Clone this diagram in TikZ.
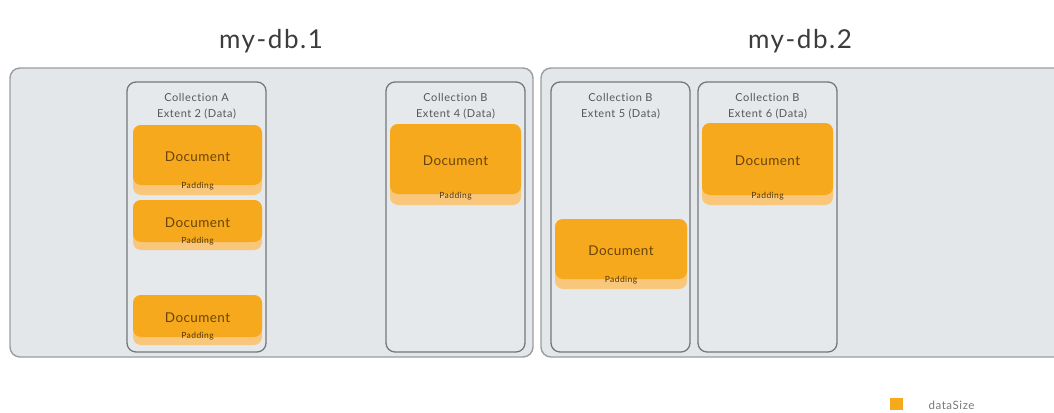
\documentclass[tikz,border=0pt]{standalone}
\usepackage{fontspec}
\setmainfont{Lato}[Ligatures={NoCommon,NoRare}]
\definecolor{panelfill}{HTML}{E4E7EA}
\definecolor{panelline}{HTML}{9A9DA1}
\definecolor{colfill}{HTML}{E6E9EC}
\definecolor{colline}{HTML}{74777B}
\definecolor{docfill}{HTML}{F6A91D}
\definecolor{padfill}{HTML}{F9C77C}
\definecolor{doctext}{HTML}{6A4406}
\definecolor{headtext}{HTML}{54585C}
\definecolor{titletext}{HTML}{3C3C3C}
\tikzset{
  box/.style={inner sep=0pt, outer sep=0pt, anchor=north west},
  panel/.style={box, draw=panelline, fill=panelfill, line width=1.4pt, rounded corners=10pt},
  column/.style={box, draw=colline, fill=colfill, line width=1.3pt, rounded corners=9pt},
  padbox/.style={box, fill=padfill, rounded corners=8pt},
  docbox/.style={box, fill=docfill, rounded corners=8pt},
  doclabel/.style={text=doctext, font=\fontsize{13.5}{15}\selectfont\addfontfeatures{LetterSpace=3}},
  padlabel/.style={text=doctext!80!black, font=\fontsize{8.5}{9}\selectfont\addfontfeatures{LetterSpace=5}},
  headlabel/.style={text=headtext, align=center, font=\fontsize{11}{16}\selectfont\addfontfeatures{LetterSpace=5}},
  titlelabel/.style={text=titletext, font=\fontsize{26}{30}\selectfont\addfontfeatures{LetterSpace=6}},
}
% one document: padding strip underneath, document body on top
\newcommand{\docitem}[6]{% name, x, top, width, body height, total height
  \node[padbox, minimum width=#4, minimum height=#6] (#1pad) at (#2,#3) {};
  \node[docbox, minimum width=#4, minimum height=#5] (#1) at (#2,#3) {};
  \node[doclabel] (#1txt) at ([yshift=-2pt]#1.center) {Document};
  \node[padlabel, anchor=south] (#1padtxt) at ([yshift=1pt]#1pad.south) {Padding};
}
\begin{document}
\begin{tikzpicture}[x=1pt, y=-1pt]
\clip (0,0) rectangle (1054,412);
\fill[white] (0,0) rectangle (1054,412);

% database titles
\node[titlelabel] (t1) at (271,41) {my-db.1};
\node[titlelabel] (t2) at (800,41) {my-db.2};

% database panels
\node[panel, minimum width=523, minimum height=289] (db1) at (10,68) {};
\node[panel, minimum width=540, minimum height=289] (db2) at (541,68) {};

% extents
\node[column, minimum width=139, minimum height=270] (extA) at (127,82) {};
\node[column, minimum width=139, minimum height=270] (extB4) at (386,82) {};
\node[column, minimum width=139, minimum height=270] (extB5) at (551,82) {};
\node[column, minimum width=139, minimum height=270] (extB6) at (698,82) {};

\node[headlabel, anchor=north] (hA) at ([yshift=-8pt]extA.north) {Collection A\\Extent 2 (Data)};
\node[headlabel, anchor=north] (hB4) at ([yshift=-8pt]extB4.north) {Collection B\\Extent 4 (Data)};
\node[headlabel, anchor=north] (hB5) at ([yshift=-8pt]extB5.north) {Collection B\\Extent 5 (Data)};
\node[headlabel, anchor=north] (hB6) at ([yshift=-8pt]extB6.north) {Collection B\\Extent 6 (Data)};

% documents
\docitem{dA1}{133}{125}{129}{60}{70}
\docitem{dA2}{133}{200}{129}{42}{50}
\docitem{dA3}{133}{295}{129}{42}{50}
\docitem{dB4}{390}{124}{131}{70}{81}
\docitem{dB5}{555}{219}{132}{60}{70}
\docitem{dB6}{702}{123}{131}{72}{82}

% legend
\node[box, fill=docfill, minimum width=13, minimum height=12] (key) at (890,398) {};
\node[anchor=west, text=headtext!80, font=\fontsize{11.5}{12}\selectfont\addfontfeatures{LetterSpace=5}] (keytxt) at (925,405) {dataSize};
\end{tikzpicture}
\end{document}
